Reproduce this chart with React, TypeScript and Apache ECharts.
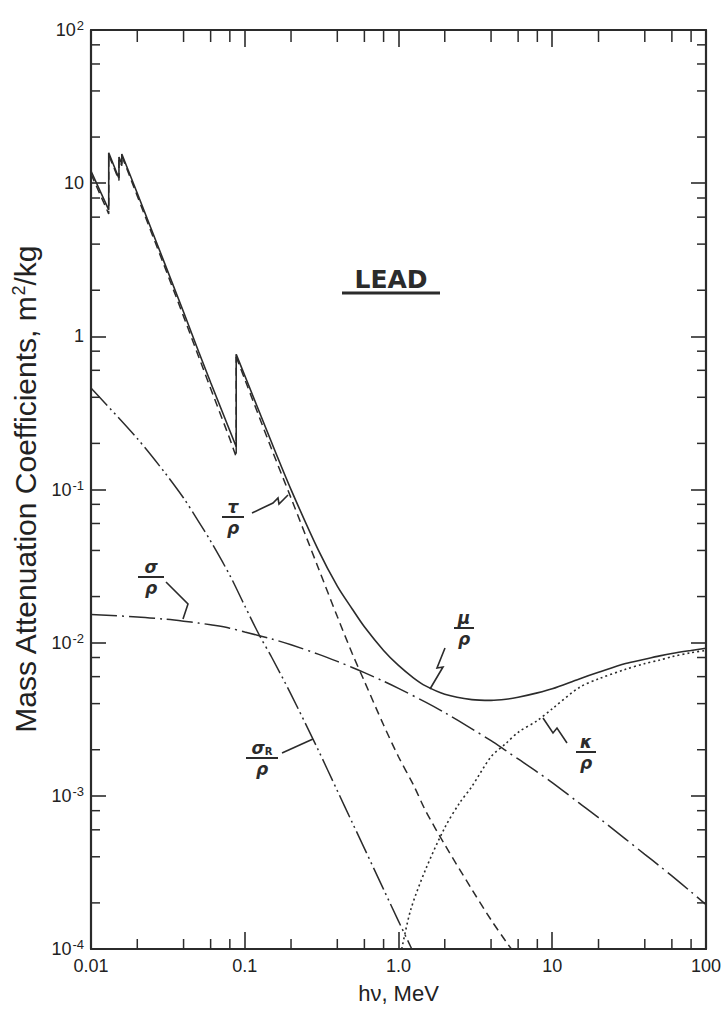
import React, { useEffect, useRef } from "react";
import * as echarts from "echarts";

// ---- Data (photon energy in MeV, coefficients in m^2/kg) ----
// total attenuation mu/rho : L-edge region (straight segments) and above the K edge (smooth)
const E_MU_EDGES = [0.01, 0.01304, 0.01304, 0.015, 0.0152, 0.0152, 0.01586, 0.01586, 0.02, 0.03, 0.04, 0.05, 0.06, 0.08, 0.088, 0.088];
const MU_EDGES = [12.0, 6.7, 15.8, 11.1, 10.8, 14.8, 13.4, 15.5, 8.6, 3.03, 1.44, 0.8, 0.5, 0.242, 0.19, 0.763];
const E_MU = [0.088, 0.1, 0.15, 0.2, 0.3, 0.4, 0.5, 0.6, 0.8, 1.0, 1.25, 1.5, 2, 3, 4, 5, 6, 8, 10, 15, 20, 30, 40, 50, 60, 80, 100];
const MU = [0.763, 0.555, 0.201, 0.0999, 0.0405, 0.0234, 0.0166, 0.0127, 0.0089, 0.0071, 0.0059, 0.00522, 0.00461, 0.00425, 0.0042, 0.00427, 0.0044, 0.0047, 0.005, 0.0058, 0.0064, 0.0073, 0.0078, 0.0082, 0.0085, 0.0089, 0.0092];

// photoelectric tau/rho
const E_TAU_EDGES = [0.01, 0.01304, 0.01304, 0.015, 0.0152, 0.0152, 0.01586, 0.01586, 0.02, 0.03, 0.04, 0.05, 0.06, 0.08, 0.088, 0.088];
const TAU_EDGES = [11.5, 6.3, 15.3, 10.8, 10.4, 14.3, 13.0, 15.1, 8.25, 2.88, 1.35, 0.742, 0.456, 0.214, 0.163, 0.735];
const E_TAU = [0.088, 0.1, 0.15, 0.2, 0.3, 0.4, 0.5, 0.6, 0.8, 1.0, 1.25, 1.5, 2, 3, 4, 5, 6];
const TAU = [0.735, 0.525, 0.182, 0.088, 0.031, 0.0148, 0.0085, 0.0056, 0.0029, 0.0018, 0.00118, 0.0008, 0.00048, 0.000245, 0.000155, 0.000112, 0.000087];

// Compton sigma/rho
const E_SIGMA = [0.01, 0.02, 0.03, 0.04, 0.05, 0.06, 0.08, 0.1, 0.15, 0.2, 0.3, 0.4, 0.5, 0.6, 0.8, 1, 1.5, 2, 3, 4, 5, 6, 8, 10, 15, 20, 30, 40, 50, 60, 80, 100];
const SIGMA = [0.01526, 0.01473, 0.01425, 0.01382, 0.01344, 0.01308, 0.01244, 0.01174, 0.01057, 0.00969, 0.00842, 0.00755, 0.00689, 0.00637, 0.0056, 0.00503, 0.00409, 0.00349, 0.00274, 0.00229, 0.00197, 0.00174, 0.00143, 0.00122, 0.000896, 0.00072, 0.000522, 0.000415, 0.000348, 0.0003, 0.000236, 0.000195];

// Rayleigh sigma_R/rho
const E_SIGMA_R = [0.01, 0.02, 0.03, 0.04, 0.05, 0.06, 0.08, 0.1, 0.125, 0.15, 0.2, 0.3, 0.4, 0.5, 0.6, 0.8, 1.0, 1.22, 1.5];
const SIGMA_R = [0.46, 0.215, 0.13, 0.088, 0.062, 0.046, 0.0275, 0.0174, 0.0111, 0.008, 0.0046, 0.002, 0.00108, 0.00067, 0.000454, 0.000245, 0.000152, 0.0001, 0.0000645];

// pair production kappa/rho
const E_KAPPA = [1.05, 1.2, 1.5, 2, 2.5, 3, 4, 5, 6, 8, 10, 15, 20, 30, 40, 50, 60, 80, 100];
const KAPPA = [0.0001, 0.00018, 0.00033, 0.00062, 0.0009, 0.00115, 0.0018, 0.0022, 0.0026, 0.0031, 0.0037, 0.0051, 0.0058, 0.0067, 0.0073, 0.0077, 0.0081, 0.0086, 0.0089];

const X_DECADES = [0.01, 0.1, 1, 10];
const Y_DECADES = [0.0001, 0.001, 0.01, 0.1, 1, 10];
const MINOR_MULT = [2, 4, 6, 8];
const X_TICK_LABELS: Record<number, string> = { [-2]: "0.01", [-1]: "0.1", 0: "1.0", 1: "10", 2: "100" };

const INK = "#2b2b2b";
const FONT = "Liberation Sans";

const zip = (xs: number[], ys: number[]) => xs.map((x, i) => [x, ys[i]]);

function frac(cx: number, barY: number, num: string, den: string, w: number, rich?: any) {
  const ts = { fontFamily: "DejaVu Sans", fontSize: 17, fontWeight: "bold", fontStyle: "italic", fill: INK, align: "center" };
  return [
    { type: "text", x: cx, y: barY - 2, style: { ...ts, text: num, verticalAlign: "bottom", rich } },
    { type: "line", shape: { x1: cx - w / 2, y1: barY, x2: cx + w / 2, y2: barY }, style: { stroke: INK, lineWidth: 2 } },
    { type: "text", x: cx, y: barY + 2, style: { ...ts, text: den, verticalAlign: "top" } },
  ];
}

const leader = (pts: number[][]) => ({ type: "polyline", shape: { points: pts }, style: { stroke: INK, lineWidth: 1.6, fill: null } });

export default function App() {
  const ref = useRef<HTMLDivElement>(null);
  useEffect(() => {
    if (!ref.current) return;
    document.body.style.margin = "0";
    const chart = echarts.init(ref.current, undefined, { renderer: "svg" });

    const xMinor: number[] = [];
    X_DECADES.forEach((d) => MINOR_MULT.forEach((m) => xMinor.push(d * m)));
    const yMinor: number[] = [];
    Y_DECADES.forEach((d) => MINOR_MULT.forEach((m) => yMinor.push(d * m)));

    const axisLine = { show: true, lineStyle: { color: INK, width: 2.2 } };
    const xTick = { show: true, inside: true, length: 17, lineStyle: { color: INK, width: 1.6 } };
    const yTick = { show: true, inside: true, length: 15, lineStyle: { color: INK, width: 1.6 } };
    const lineSeries = (name: string, data: number[][], type: any, width = 1.5, smooth: any = false) => ({
      name,
      type: "line",
      data,
      symbol: "none",
      smooth,
      silent: true,
      lineStyle: { color: INK, width, type },
      z: 3,
    });

    chart.setOption({
      animation: false,
      backgroundColor: "#ffffff",
      grid: { left: 91, top: 30, width: 617, height: 921 },
      xAxis: [
        {
          type: "log", logBase: 10, min: 0.01, max: 100, position: "bottom",
          axisLine, axisTick: xTick, splitLine: { show: false },
          axisLabel: {
            margin: 8, color: "#222", fontFamily: FONT, fontSize: 18,
            formatter: (v: number) => X_TICK_LABELS[Math.round(Math.log10(v))] ?? "",
          },
          name: "hν, MeV", nameLocation: "middle", nameGap: 33,
          nameTextStyle: { fontFamily: FONT, fontSize: 22, color: "#222" },
        },
        {
          type: "log", logBase: 10, min: 0.01, max: 100, position: "top",
          axisLine, axisTick: xTick, axisLabel: { show: false }, splitLine: { show: false },
        },
      ],
      yAxis: [
        {
          type: "log", logBase: 10, min: 0.0001, max: 100, position: "left",
          axisLine, axisTick: yTick, splitLine: { show: false },
          axisLabel: {
            margin: 7, color: "#222",
            formatter: (v: number) => {
              const e = Math.round(Math.log10(v));
              if (e === 1) return "{n|10}";
              if (e === 0) return "{n|1}";
              return "{n|10}{s|" + (e > 0 ? String(e) : "-" + -e) + "}";
            },
            rich: {
              n: { fontFamily: FONT, fontSize: 18, color: "#222", lineHeight: 22 },
              s: { fontFamily: FONT, fontSize: 13, color: "#222", verticalAlign: "top", lineHeight: 22, padding: [0, 0, 9, 1] },
            },
          },
          name: "Mass Attenuation Coefficients, m{s|2}/kg", nameLocation: "middle", nameGap: 49,
          nameTextStyle: {
            fontFamily: FONT, fontSize: 30, color: "#222",
            rich: { s: { fontFamily: FONT, fontSize: 18, color: "#222", padding: [0, 0, 13, 0] } },
          },
        },
        {
          type: "log", logBase: 10, min: 0.0001, max: 100, position: "right",
          axisLine, axisTick: yTick, axisLabel: { show: false }, splitLine: { show: false },
        },
      ],
      series: [
        lineSeries("μ/ρ (edges)", zip(E_MU_EDGES, MU_EDGES), "solid", 1.6),
        lineSeries("μ/ρ", zip(E_MU, MU), "solid", 1.6, 0.3),
        lineSeries("τ/ρ (edges)", zip(E_TAU_EDGES, TAU_EDGES), [8, 5], 1.5),
        lineSeries("τ/ρ", zip(E_TAU, TAU), [8, 5], 1.5, 0.3),
        lineSeries("σ/ρ", zip(E_SIGMA, SIGMA), [26, 5, 2, 5], 1.5, 0.3),
        lineSeries("σR/ρ", zip(E_SIGMA_R, SIGMA_R), [24, 4, 2, 4, 2, 4], 1.5, 0.3),
        lineSeries("κ/ρ", zip(E_KAPPA, KAPPA), [2, 3], 1.6, 0.3),
        {
          type: "custom", silent: true, clip: false, z: 4,
          data: xMinor.map((v) => [v, 1]),
          renderItem: (params: any, api: any) => {
            const x = api.coord([api.value(0), 1])[0];
            const cs = params.coordSys;
            const st = { stroke: INK, lineWidth: 1.5 };
            return {
              type: "group",
              children: [
                { type: "line", shape: { x1: x, y1: cs.y + cs.height, x2: x, y2: cs.y + cs.height - 10 }, style: st },
                { type: "line", shape: { x1: x, y1: cs.y, x2: x, y2: cs.y + 12 }, style: st },
              ],
            };
          },
        },
        {
          type: "custom", silent: true, clip: false, z: 4,
          data: yMinor.map((v) => [1, v]),
          renderItem: (params: any, api: any) => {
            const y = api.coord([1, api.value(1)])[1];
            const cs = params.coordSys;
            const st = { stroke: INK, lineWidth: 1.5 };
            return {
              type: "group",
              children: [
                { type: "line", shape: { x1: cs.x, y1: y, x2: cs.x + 9, y2: y }, style: st },
                { type: "line", shape: { x1: cs.x + cs.width, y1: y, x2: cs.x + cs.width - 9, y2: y }, style: st },
              ],
            };
          },
        },
      ],
      graphic: [
        { type: "text", x: 391, y: 279, style: { text: "LEAD", fontFamily: "DejaVu Sans", fontSize: 25, fontWeight: "bold", fill: INK, align: "center", verticalAlign: "middle" } },
        { type: "line", shape: { x1: 342, y1: 293, x2: 440, y2: 293 }, style: { stroke: INK, lineWidth: 3 } },
        ...frac(233, 517, "τ", "ρ", 22),
        leader([[252, 513], [273, 503], [278, 498], [279, 504], [288, 495]]),
        ...frac(151, 577, "σ", "ρ", 26),
        leader([[166, 582], [188, 604], [183, 619]]),
        ...frac(262, 758, "{a|σ}{b|R}", "ρ", 32, {
          a: { fontFamily: "DejaVu Sans", fontSize: 17, fontWeight: "bold", fontStyle: "italic", fill: INK },
          b: { fontFamily: "DejaVu Sans", fontSize: 10, fontWeight: "bold", fill: INK, verticalAlign: "bottom" },
        }),
        leader([[282, 753], [313, 739]]),
        ...frac(464, 628, "μ", "ρ", 20),
        leader([[445, 648], [437, 668], [443, 667], [430, 689]]),
        ...frac(586, 752, "κ", "ρ", 20),
        leader([[543, 718], [553, 733], [557, 728], [567, 743]]),
      ],
    });
    return () => chart.dispose();
  }, []);
  return <div ref={ref} style={{ position: "absolute", left: 0, top: 0, width: 724, height: 1009 }} />;
}
